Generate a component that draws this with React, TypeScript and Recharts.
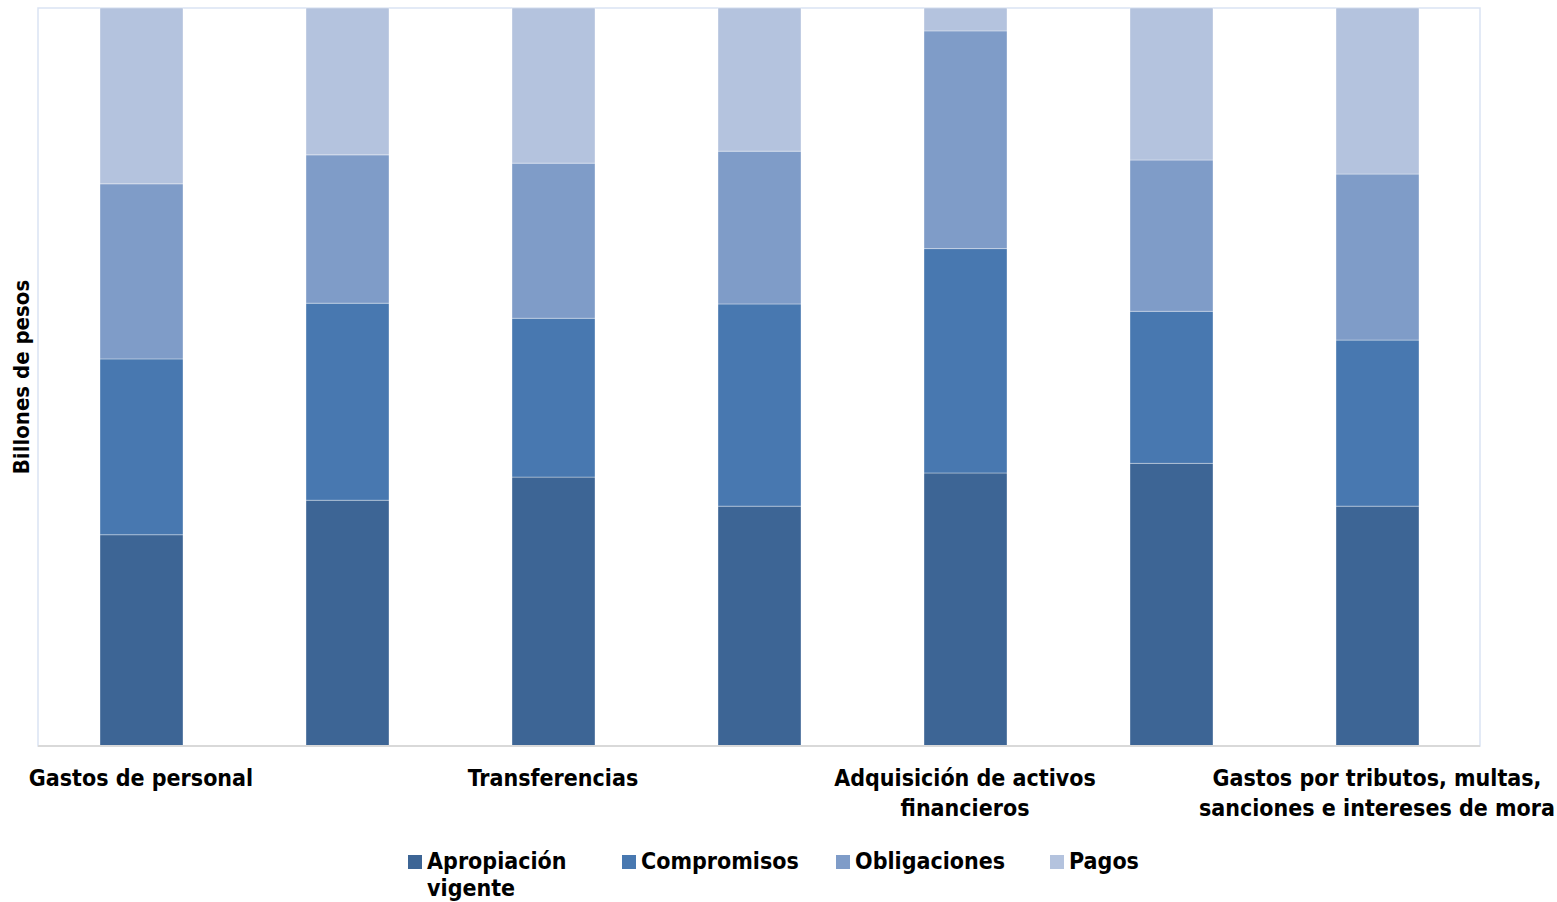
import React from "react";
import {
  BarChart,
  Bar,
  XAxis,
  YAxis,
  Legend,
  ReferenceArea,
} from "recharts";

const categories = [
  "Gastos de personal",
  "Adquisición de bienes y servicios",
  "Transferencias",
  "Gastos de comercialización y producción",
  "Adquisición de activos financieros",
  "Disminución de pasivos",
  "Gastos por tributos, multas, sanciones e intereses de mora",
];

// shares of each bar (%)
const apropiacion = [28.6, 33.3, 36.4, 32.5, 37.0, 38.3, 32.5];
const compromisos = [23.8, 26.7, 21.5, 27.4, 30.4, 20.6, 22.5];
const obligaciones = [23.7, 20.1, 21.0, 20.7, 29.5, 20.5, 22.5];
const pagos = [23.8, 19.9, 21.0, 19.4, 3.1, 20.6, 22.5];

const seriesNames = ["Apropiación vigente", "Compromisos", "Obligaciones", "Pagos"];
const seriesKeys = ["apropiacion", "compromisos", "obligaciones", "pagos"];
const seriesColors = ["#3d6595", "#4878b0", "#7f9cc8", "#b4c3de"];

const data = categories.map((name, i) => ({
  name,
  apropiacion: apropiacion[i],
  compromisos: compromisos[i],
  obligaciones: obligaciones[i],
  pagos: pagos[i],
}));

const FONT = "'DejaVu Sans Condensed', 'DejaVu Sans', sans-serif";
const TICK_SIZE = 23;

let ctx: CanvasRenderingContext2D | null = null;
function measure(s: string) {
  if (!ctx) ctx = document.createElement("canvas").getContext("2d");
  if (!ctx) return s.length * TICK_SIZE * 0.55;
  ctx.font = `bold ${TICK_SIZE}px ${FONT}`;
  return ctx.measureText(s).width;
}

// greedy word wrap
function wrap(text: string, maxWidth: number) {
  const words = text.split(" ");
  const lines: string[] = [];
  let cur = "";
  words.forEach((w) => {
    const next = cur ? cur + " " + w : w;
    if (cur && measure(next) > maxWidth) {
      lines.push(cur);
      cur = w;
    } else {
      cur = next;
    }
  });
  if (cur) lines.push(cur);
  return lines;
}

function CategoryTick({ x, y, payload }: any) {
  const lines = wrap(payload.value, 365);
  return (
    <text
      x={x}
      y={y + 40}
      textAnchor="middle"
      fontFamily={FONT}
      fontSize={TICK_SIZE}
      fontWeight={700}
      fill="#000"
    >
      {lines.map((l, i) => (
        <tspan key={i} x={x} dy={i === 0 ? 0 : 30}>
          {l}
        </tspan>
      ))}
    </text>
  );
}

function LegendBox() {
  return (
    <div
      style={{
        display: "flex",
        justifyContent: "center",
        height: 60,
        paddingTop: 6,
        boxSizing: "border-box",
        fontFamily: FONT,
        fontSize: 23,
        fontWeight: 700,
        color: "#000",
        paddingRight: 10,
      }}
    >
      {seriesNames.map((name, i) => (
        <div
          key={name}
          style={{
            display: "flex",
            alignItems: "flex-start",
            width: i < seriesNames.length - 1 ? 214 : undefined,
          }}
        >
          <span
            style={{
              width: 14,
              height: 14,
              marginTop: 7,
              marginRight: 5,
              background: seriesColors[i],
              flex: "none",
            }}
          />
          <span style={{ maxWidth: 190, lineHeight: "27px" }}>{name}</span>
        </div>
      ))}
    </div>
  );
}

export default function App() {
  return (
    <div style={{ position: "fixed", left: 0, top: 0, width: 1557, height: 902, background: "#fff" }}>
      <BarChart
        width={1557}
        height={902}
        data={data}
        stackOffset="expand"
        barSize={83}
        margin={{ top: 8, right: 77, left: 0, bottom: 0 }}
      >
        <ReferenceArea y1={0} y2={1} fill="none" stroke="#dae3f3" strokeWidth={1.5} />
        <XAxis
          dataKey="name"
          interval={1}
          height={96}
          tickSize={0}
          tickMargin={0}
          tickLine={false}
          axisLine={{ stroke: "#d9d9d9", strokeWidth: 2 }}
          tick={<CategoryTick />}
        />
        <YAxis
          width={38}
          domain={[0, 1]}
          tick={false}
          tickLine={false}
          axisLine={false}
          label={{
            value: "Billones de pesos",
            angle: -90,
            position: "center",
            dx: 2,
            style: { fontFamily: FONT, fontSize: 22, fontWeight: 700, fill: "#000" },
          }}
        />
        <Legend
          verticalAlign="bottom"
          content={<LegendBox />}
          wrapperStyle={{ left: 0, width: 1557 }}
        />
        {seriesKeys.map((k, i) => (
          <Bar
            key={k}
            dataKey={k}
            name={seriesNames[i]}
            stackId="a"
            fill={seriesColors[i]}
            stroke="#ffffff"
            strokeOpacity={0.35}
            strokeWidth={1}
            isAnimationActive={false}
          />
        ))}
      </BarChart>
    </div>
  );
}
